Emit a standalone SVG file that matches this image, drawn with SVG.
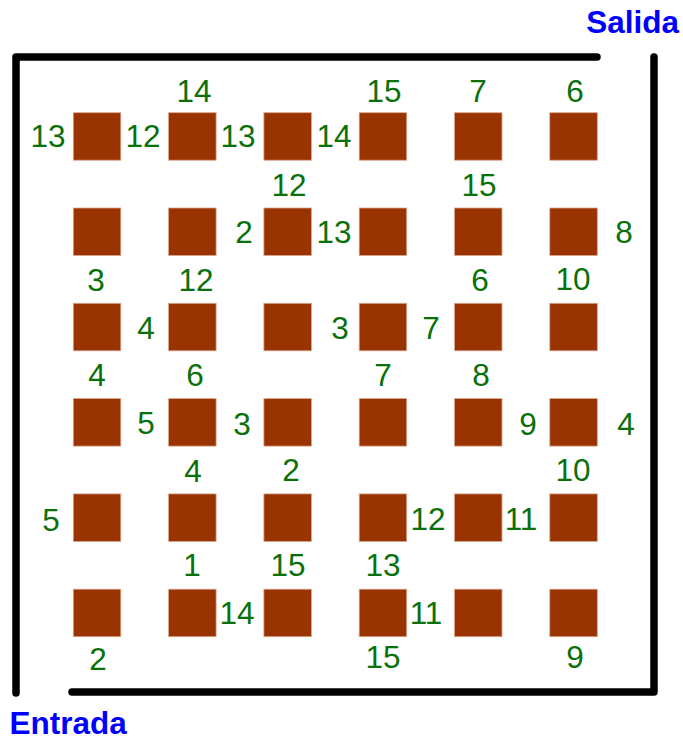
<svg xmlns="http://www.w3.org/2000/svg" xmlns:xlink="http://www.w3.org/1999/xlink" width="683" height="740" viewBox="0 0 683 740">
<style>
.wall{fill:none;stroke:#000;stroke-width:7.5;stroke-linecap:round;stroke-linejoin:round}
.sq{fill:#993300;stroke:#d9a68c;stroke-width:0.8}
.n{font-family:"Liberation Sans",Arial,sans-serif;font-size:31.5px;fill:#0a700a;text-anchor:middle}
.t{font-family:"Liberation Sans",Arial,sans-serif;font-size:31.5px;font-weight:bold;fill:#0000ff}
</style>
<defs>
<rect id="s" class="sq" width="47.5" height="47.5"/>
</defs>
<rect width="683" height="740" fill="#fff"/>
<g id="walls">
<path class="wall" d="M16 693 V57 H597"/>
<path class="wall" d="M654 57 V692 H72"/>
</g>
<g id="blocks">
<use xlink:href="#s" x="73.3" y="112.7"/><use xlink:href="#s" x="168.6" y="112.7"/><use xlink:href="#s" x="263.9" y="112.7"/><use xlink:href="#s" x="359.2" y="112.7"/><use xlink:href="#s" x="454.5" y="112.7"/><use xlink:href="#s" x="549.8" y="112.7"/>
<use xlink:href="#s" x="73.3" y="208"/><use xlink:href="#s" x="168.6" y="208"/><use xlink:href="#s" x="263.9" y="208"/><use xlink:href="#s" x="359.2" y="208"/><use xlink:href="#s" x="454.5" y="208"/><use xlink:href="#s" x="549.8" y="208"/>
<use xlink:href="#s" x="73.3" y="303.3"/><use xlink:href="#s" x="168.6" y="303.3"/><use xlink:href="#s" x="263.9" y="303.3"/><use xlink:href="#s" x="359.2" y="303.3"/><use xlink:href="#s" x="454.5" y="303.3"/><use xlink:href="#s" x="549.8" y="303.3"/>
<use xlink:href="#s" x="73.3" y="398.6"/><use xlink:href="#s" x="168.6" y="398.6"/><use xlink:href="#s" x="263.9" y="398.6"/><use xlink:href="#s" x="359.2" y="398.6"/><use xlink:href="#s" x="454.5" y="398.6"/><use xlink:href="#s" x="549.8" y="398.6"/>
<use xlink:href="#s" x="73.3" y="493.9"/><use xlink:href="#s" x="168.6" y="493.9"/><use xlink:href="#s" x="263.9" y="493.9"/><use xlink:href="#s" x="359.2" y="493.9"/><use xlink:href="#s" x="454.5" y="493.9"/><use xlink:href="#s" x="549.8" y="493.9"/>
<use xlink:href="#s" x="73.3" y="589.2"/><use xlink:href="#s" x="168.6" y="589.2"/><use xlink:href="#s" x="263.9" y="589.2"/><use xlink:href="#s" x="359.2" y="589.2"/><use xlink:href="#s" x="454.5" y="589.2"/><use xlink:href="#s" x="549.8" y="589.2"/>
</g>
<g id="numbers">
<text class="n" x="194" y="102">14</text><text class="n" x="384" y="102">15</text><text class="n" x="478" y="102">7</text><text class="n" x="575" y="102">6</text>
<text class="n" x="48" y="147">13</text><text class="n" x="143" y="147">12</text><text class="n" x="238" y="147">13</text><text class="n" x="334" y="147">14</text>
<text class="n" x="289" y="196">12</text><text class="n" x="479" y="196">15</text>
<text class="n" x="244" y="243">2</text><text class="n" x="334" y="243">13</text><text class="n" x="624" y="243">8</text>
<text class="n" x="96" y="291">3</text><text class="n" x="196" y="291">12</text><text class="n" x="480" y="291">6</text><text class="n" x="573" y="290">10</text>
<text class="n" x="146" y="339">4</text><text class="n" x="340" y="339">3</text><text class="n" x="431" y="339">7</text>
<text class="n" x="97" y="386">4</text><text class="n" x="195" y="386">6</text><text class="n" x="383" y="386">7</text><text class="n" x="481" y="386">8</text>
<text class="n" x="146" y="434">5</text><text class="n" x="242" y="435">3</text><text class="n" x="528" y="435">9</text><text class="n" x="626" y="435">4</text>
<text class="n" x="193" y="482">4</text><text class="n" x="291" y="481">2</text><text class="n" x="573" y="481">10</text>
<text class="n" x="51" y="531">5</text><text class="n" x="428" y="530">12</text><text class="n" x="521" y="530">11</text>
<text class="n" x="192" y="576">1</text><text class="n" x="288" y="576">15</text><text class="n" x="383" y="576">13</text>
<text class="n" x="237" y="624">14</text><text class="n" x="426" y="624">11</text>
<text class="n" x="98" y="670">2</text><text class="n" x="383" y="668">15</text><text class="n" x="575" y="668">9</text>
</g>
<g id="titles">
<text class="t" x="679" y="33" text-anchor="end">Salida</text>
<text class="t" x="9.5" y="734">Entrada</text>
</g>
</svg>
